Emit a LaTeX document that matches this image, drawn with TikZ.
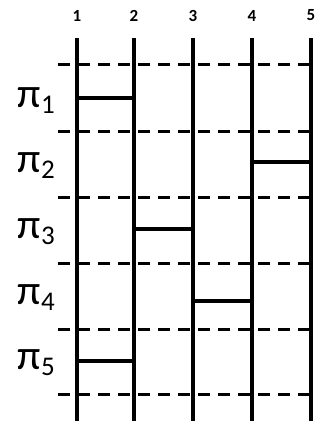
\documentclass[tikz,border=0pt]{standalone}
\usepackage{fontspec}
\setmainfont{Carlito}
\begin{document}
\begin{tikzpicture}[x=1pt,y=-1pt,
  pole/.style={line width=3.2pt},
  rung/.style={line width=3.2pt},
  level/.style={line width=3pt,dash pattern=on 12pt off 8pt},
  numlab/.style={font=\bfseries\fontsize{17}{17}\selectfont,inner sep=0pt},
  pilab/.style={anchor=east,inner sep=0pt}]
\useasboundingbox (0,0) rectangle (322,423);
% poles
\foreach \i/\x in {1/77,2/134,3/193,4/252,5/311}{
  \coordinate (t\i) at (\x,38);
  \coordinate (b\i) at (\x,421);
  \node[numlab] (n\i) at (\x,15.5) {\i};
  \draw[pole] (t\i) -- (b\i);
}
% dashed levels
\foreach \j/\y in {0/64,1/131,2/197,3/263,4/329,5/394}{
  \coordinate (l\j) at (58,\y);
  \coordinate (r\j) at (311,\y);
  \draw[level] (l\j) -- (r\j);
}
% rungs
\coordinate (a1) at (77,98);  \coordinate (a2) at (134,98);
\coordinate (c1) at (252,162); \coordinate (c2) at (311,162);
\coordinate (d1) at (134,229); \coordinate (d2) at (193,229);
\coordinate (e1) at (193,301); \coordinate (e2) at (252,301);
\coordinate (f1) at (77,361);  \coordinate (f2) at (134,361);
\draw[rung] (a1) -- (a2);
\draw[rung] (c1) -- (c2);
\draw[rung] (d1) -- (d2);
\draw[rung] (e1) -- (e2);
\draw[rung] (f1) -- (f2);
% labels
\foreach \k/\y in {1/101,2/166,3/232,4/298,5/363}{
  \node[pilab] (p\k) at (55,\y) {\fontsize{42}{42}\selectfont π\raisebox{-6pt}{\fontsize{27}{27}\selectfont \k}};
}
\end{tikzpicture}
\end{document}
